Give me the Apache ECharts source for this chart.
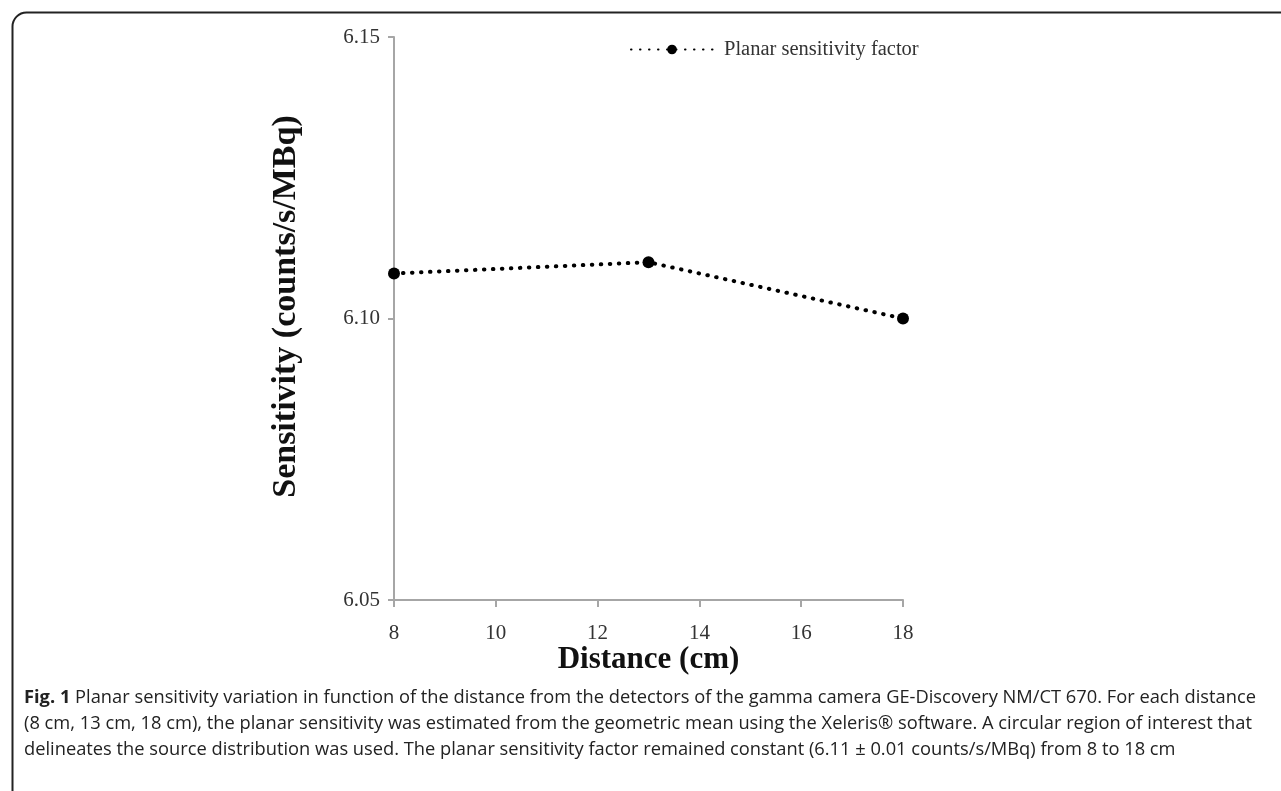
<!DOCTYPE html>
<html><head><meta charset="utf-8">
<script src="https://cdn.jsdelivr.net/npm/echarts@6/dist/echarts.min.js"></script>
<style>html,body{margin:0;padding:0;background:#fff}#c{width:1281px;height:791px}</style>
</head><body><div id="c"></div>
<script>
const distances = [8, 13, 18];
const sensitivity = [6.108, 6.110, 6.100];
const seriesName = 'Planar sensitivity factor';
const xTicks = [8, 10, 12, 14, 16, 18];
const yTicks = [6.05, 6.10, 6.15];
const captionLines = [
  ' Planar sensitivity variation in function of the distance from the detectors of the gamma camera GE-Discovery NM/CT 670. For each distance',
  '(8 cm, 13 cm, 18 cm), the planar sensitivity was estimated from the geometric mean using the Xeleris\u00AE software. A circular region of interest that',
  'delineates the source distribution was used. The planar sensitivity factor remained constant (6.11 \u00B1 0.01 counts/s/MBq) from 8 to 18 cm'
];

const chart = echarts.init(document.getElementById('c'));
const serif = '"Liberation Serif", "DejaVu Serif", serif';
const sans = '"Open Sans", sans-serif';
const axisCol = '#a6a6a6';
chart.setOption({
  animation: false,
  grid: { left: 394, right: 378, top: 37, bottom: 191, containLabel: false },
  legend: {
    data: [seriesName], left: 625, top: 34, itemWidth: 82, itemHeight: 12,
    textStyle: { fontFamily: serif, fontSize: 20.5, color: '#333', padding: [0, 0, 0, 6] }
  },
  xAxis: {
    type: 'value', min: 8, max: 18, interval: 2,
    name: 'Distance (cm)', nameLocation: 'middle', nameGap: 44, nameMoveOverlap: false,
    nameTextStyle: { fontFamily: serif, fontSize: 31, fontWeight: 'bold', color: '#111' },
    axisLine: { lineStyle: { color: axisCol, width: 2 } },
    axisTick: { show: true, length: 7, lineStyle: { color: axisCol, width: 2 } },
    axisLabel: { fontFamily: serif, fontSize: 21, color: '#333', margin: 23,
      formatter: v => xTicks.includes(v) ? String(v) : '' },
    splitLine: { show: false }
  },
  yAxis: {
    type: 'value', min: 6.05, max: 6.15, interval: 0.05,
    name: 'Sensitivity (counts/s/MBq)', nameLocation: 'middle', nameGap: 91,
    nameTextStyle: { fontFamily: serif, fontSize: 34, fontWeight: 'bold', color: '#111', padding: [0, 0, 0, 24] },
    axisLine: { show: true, lineStyle: { color: axisCol, width: 2 } },
    axisTick: { show: true, length: 6, lineStyle: { color: axisCol, width: 2 } },
    axisLabel: { fontFamily: serif, fontSize: 21, color: '#333', margin: 14,
      formatter: v => { const t = yTicks.find(y => Math.abs(y - v) < 1e-9); return t !== undefined ? t.toFixed(2) : ''; } },
    splitLine: { show: false }
  },
  series: [{
    name: seriesName, type: 'line',
    data: distances.map((d, i) => [d, sensitivity[i]]),
    symbol: 'circle', symbolSize: 12,
    itemStyle: { color: '#000' },
    lineStyle: { color: '#000', width: 4, type: [0.5, 8.5], cap: 'round' }
  }],
  graphic: [
    { type: 'rect', left: 10, top: 10, shape: { width: 1300, height: 800, r: 14 },
      style: { fill: 'none', stroke: '#222', lineWidth: 2 }, silent: true },
    { type: 'text', left: 24, top: 689, style: {
        text: '{b|Fig. 1}{n|' + captionLines[0] + '}', rich: {
          b: { fontFamily: sans, fontWeight: 'bold', fontSize: 18.3, fill: '#222' },
          n: { fontFamily: sans, fontSize: 18.3, fill: '#222' } } } },
    { type: 'text', left: 24, top: 715, style: { text: captionLines[1], fontFamily: sans, fontSize: 18.3, fill: '#222' } },
    { type: 'text', left: 24, top: 741, style: { text: captionLines[2], fontFamily: sans, fontSize: 18.3, fill: '#222' } }
  ]
});
</script></body></html>
